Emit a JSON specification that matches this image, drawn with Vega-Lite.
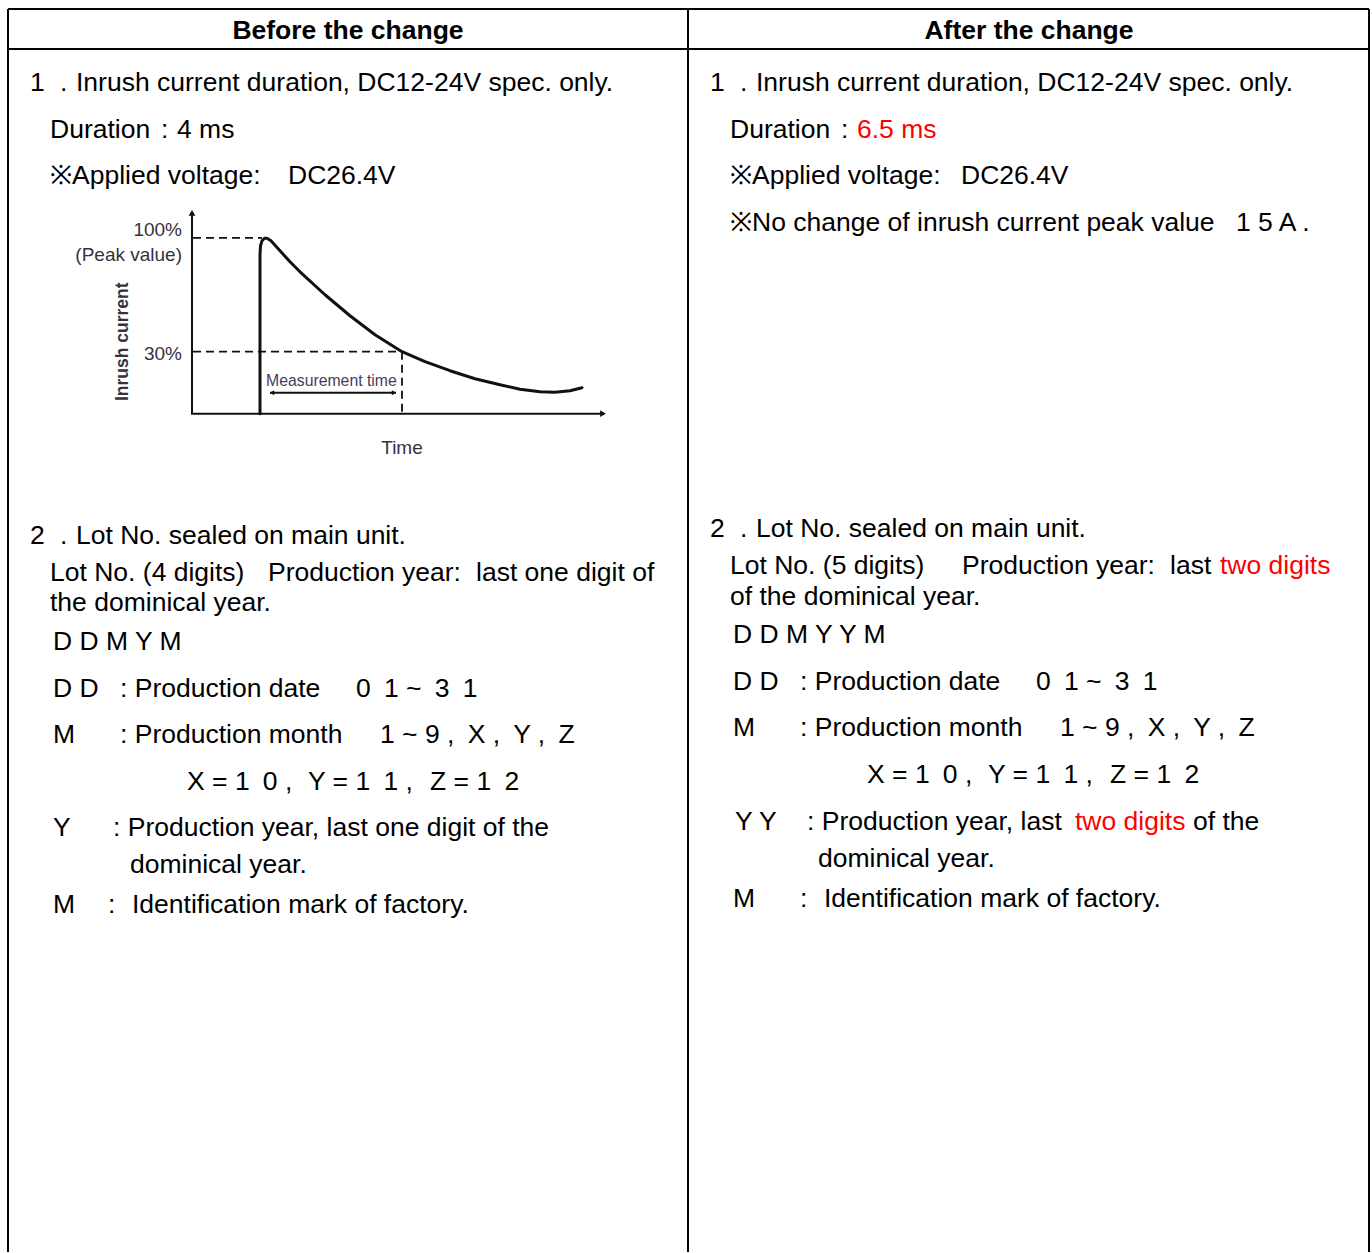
{
  "$schema": "https://vega.github.io/schema/vega-lite/v6.json",
  "width": 1372,
  "height": 1253,
  "autosize": {"type": "fit", "contains": "padding"},
  "padding": 0,
  "background": "white",
  "config": {"view": {"stroke": null}},
  "datasets": {
    "grid": [
      {"x": 8, "y": 9, "x2": 1369, "y2": 9},
      {"x": 8, "y": 49, "x2": 1369, "y2": 49},
      {"x": 8, "y": 9, "x2": 8, "y2": 1253},
      {"x": 688, "y": 9, "x2": 688, "y2": 1253},
      {"x": 1369, "y": 9, "x2": 1369, "y2": 1253}
    ],
    "heads": [
      {"x": 348, "y": 39, "text": "Before the change"},
      {"x": 1029, "y": 39, "text": "After the change"}
    ],
    "body": [
      {"x": 30, "y": 91, "text": "1", "emph": "plain"},
      {"x": 60, "y": 91, "text": ".", "emph": "plain"},
      {"x": 76, "y": 91, "text": "Inrush current duration, DC12-24V spec. only.", "emph": "plain"},
      {"x": 50, "y": 138, "text": "Duration", "emph": "plain"},
      {"x": 161, "y": 138, "text": ":", "emph": "plain"},
      {"x": 177, "y": 138, "text": "4 ms", "emph": "plain"},
      {"x": 50, "y": 184, "text": "※Applied voltage:", "emph": "plain"},
      {"x": 288, "y": 184, "text": "DC26.4V", "emph": "plain"},
      {"x": 30, "y": 544, "text": "2", "emph": "plain"},
      {"x": 60, "y": 544, "text": ".", "emph": "plain"},
      {"x": 76, "y": 544, "text": "Lot No. sealed on main unit.", "emph": "plain"},
      {"x": 50, "y": 581, "text": "Lot No. (4 digits)", "emph": "plain"},
      {"x": 268, "y": 581, "text": "Production year:", "emph": "plain"},
      {"x": 476, "y": 581, "text": "last one digit of", "emph": "plain"},
      {"x": 50, "y": 611, "text": "the dominical year.", "emph": "plain"},
      {"x": 53, "y": 651, "text": "D D M Y M", "emph": "plain"},
      {"x": 53, "y": 698, "text": "D D", "emph": "plain"},
      {"x": 120, "y": 698, "text": ": Production date", "emph": "plain"},
      {"x": 356, "y": 698, "text": "0\u20021 ~\u20023\u20021", "emph": "plain"},
      {"x": 53, "y": 744, "text": "M", "emph": "plain"},
      {"x": 120, "y": 744, "text": ": Production month", "emph": "plain"},
      {"x": 380, "y": 744, "text": "1 ~ 9 ,\u2002X ,\u2002Y ,\u2002Z", "emph": "plain"},
      {"x": 187, "y": 791, "text": "X = 1\u20020 ,", "emph": "plain"},
      {"x": 308, "y": 791, "text": "Y = 1\u20021 ,", "emph": "plain"},
      {"x": 430, "y": 791, "text": "Z = 1\u20022", "emph": "plain"},
      {"x": 53, "y": 837, "text": "Y", "emph": "plain"},
      {"x": 113, "y": 837, "text": ": Production year, last one digit of the", "emph": "plain"},
      {"x": 130, "y": 874, "text": "dominical year.", "emph": "plain"},
      {"x": 53, "y": 914, "text": "M", "emph": "plain"},
      {"x": 108, "y": 914, "text": ":", "emph": "plain"},
      {"x": 132, "y": 914, "text": "Identification mark of factory.", "emph": "plain"},
      {"x": 710, "y": 91, "text": "1", "emph": "plain"},
      {"x": 740, "y": 91, "text": ".", "emph": "plain"},
      {"x": 756, "y": 91, "text": "Inrush current duration, DC12-24V spec. only.", "emph": "plain"},
      {"x": 730, "y": 138, "text": "Duration", "emph": "plain"},
      {"x": 841, "y": 138, "text": ":", "emph": "plain"},
      {"x": 857, "y": 138, "text": "6.5 ms", "emph": "changed"},
      {"x": 730, "y": 184, "text": "※Applied voltage:", "emph": "plain"},
      {"x": 961, "y": 184, "text": "DC26.4V", "emph": "plain"},
      {"x": 730, "y": 231, "text": "※No change of inrush current peak value", "emph": "plain"},
      {"x": 1236, "y": 231, "text": "1 5 A .", "emph": "plain"},
      {"x": 710, "y": 537, "text": "2", "emph": "plain"},
      {"x": 740, "y": 537, "text": ".", "emph": "plain"},
      {"x": 756, "y": 537, "text": "Lot No. sealed on main unit.", "emph": "plain"},
      {"x": 730, "y": 574, "text": "Lot No. (5 digits)", "emph": "plain"},
      {"x": 962, "y": 574, "text": "Production year:", "emph": "plain"},
      {"x": 1170, "y": 574, "text": "last", "emph": "plain"},
      {"x": 1220, "y": 574, "text": "two digits", "emph": "changed"},
      {"x": 730, "y": 605, "text": "of the dominical year.", "emph": "plain"},
      {"x": 733, "y": 644, "text": "D D M Y Y M", "emph": "plain"},
      {"x": 733, "y": 691, "text": "D D", "emph": "plain"},
      {"x": 800, "y": 691, "text": ": Production date", "emph": "plain"},
      {"x": 1036, "y": 691, "text": "0\u20021 ~\u20023\u20021", "emph": "plain"},
      {"x": 733, "y": 737, "text": "M", "emph": "plain"},
      {"x": 800, "y": 737, "text": ": Production month", "emph": "plain"},
      {"x": 1060, "y": 737, "text": "1 ~ 9 ,\u2002X ,\u2002Y ,\u2002Z", "emph": "plain"},
      {"x": 867, "y": 784, "text": "X = 1\u20020 ,", "emph": "plain"},
      {"x": 988, "y": 784, "text": "Y = 1\u20021 ,", "emph": "plain"},
      {"x": 1110, "y": 784, "text": "Z = 1\u20022", "emph": "plain"},
      {"x": 735, "y": 831, "text": "Y Y", "emph": "plain"},
      {"x": 807, "y": 831, "text": ": Production year, last", "emph": "plain"},
      {"x": 1075, "y": 831, "text": "two digits", "emph": "changed"},
      {"x": 1193, "y": 831, "text": "of the", "emph": "plain"},
      {"x": 818, "y": 868, "text": "dominical year.", "emph": "plain"},
      {"x": 733, "y": 908, "text": "M", "emph": "plain"},
      {"x": 800, "y": 908, "text": ":", "emph": "plain"},
      {"x": 824, "y": 908, "text": "Identification mark of factory.", "emph": "plain"}
    ],
    "solid": [
      {"x": 192, "y": 212, "x2": 192, "y2": 414},
      {"x": 191, "y": 414, "x2": 604, "y2": 414},
      {"x": 270, "y": 393, "x2": 396, "y2": 393}
    ],
    "dashed": [
      {"x": 193, "y": 238, "x2": 262, "y2": 238},
      {"x": 193, "y": 352, "x2": 402, "y2": 352},
      {"x": 402, "y": 352, "x2": 402, "y2": 414}
    ],
    "curve": [
      {"i": 0, "x": 260, "y": 414},
      {"i": 1, "x": 260, "y": 300},
      {"i": 2, "x": 260, "y": 255},
      {"i": 3, "x": 260.5, "y": 246},
      {"i": 4, "x": 262, "y": 241},
      {"i": 5, "x": 264.5, "y": 238.5},
      {"i": 6, "x": 267, "y": 238.5},
      {"i": 7, "x": 271, "y": 241},
      {"i": 8, "x": 280, "y": 251},
      {"i": 9, "x": 290, "y": 262},
      {"i": 10, "x": 300, "y": 272},
      {"i": 11, "x": 325, "y": 295},
      {"i": 12, "x": 350, "y": 316},
      {"i": 13, "x": 375, "y": 335},
      {"i": 14, "x": 402, "y": 352},
      {"i": 15, "x": 425, "y": 362},
      {"i": 16, "x": 450, "y": 371},
      {"i": 17, "x": 475, "y": 379},
      {"i": 18, "x": 500, "y": 385},
      {"i": 19, "x": 520, "y": 389.5},
      {"i": 20, "x": 540, "y": 392},
      {"i": 21, "x": 555, "y": 392.5},
      {"i": 22, "x": 570, "y": 391},
      {"i": 23, "x": 582, "y": 388}
    ],
    "arrows": [
      {"x": 192, "y": 213, "dir": "up", "kind": "axis"},
      {"x": 603, "y": 414, "dir": "right", "kind": "axis"},
      {"x": 272, "y": 393, "dir": "left", "kind": "span"},
      {"x": 394, "y": 393, "dir": "right", "kind": "span"}
    ],
    "pct": [
      {"x": 182, "y": 236, "text": "100%"},
      {"x": 182, "y": 261, "text": "(Peak value)"},
      {"x": 182, "y": 360, "text": "30%"}
    ],
    "misc": [
      {"x": 402, "y": 454, "text": "Time"}
    ],
    "meas": [
      {"x": 266, "y": 386, "text": "Measurement time"}
    ],
    "ylab": [
      {"x": 123, "y": 342, "text": "Inrush current"}
    ]
  },
  "encoding": {
    "x": {"field": "x", "type": "quantitative", "scale": {"domain": [0, 1372], "nice": false, "zero": false}, "axis": null},
    "y": {"field": "y", "type": "quantitative", "scale": {"domain": [0, 1253], "nice": false, "zero": false, "reverse": true}, "axis": null}
  },
  "layer": [
    {
      "data": {"name": "grid"},
      "mark": {"type": "rule", "color": "#000000", "strokeWidth": 2},
      "encoding": {"x2": {"field": "x2"}, "y2": {"field": "y2"}}
    },
    {
      "data": {"name": "heads"},
      "mark": {"type": "text", "align": "center", "baseline": "alphabetic", "font": "Liberation Sans", "fontSize": 26.5, "fontWeight": "bold", "color": "#000000"},
      "encoding": {"text": {"field": "text"}}
    },
    {
      "data": {"name": "body"},
      "mark": {"type": "text", "align": "left", "baseline": "alphabetic", "font": "Liberation Sans", "fontSize": 26.5},
      "encoding": {
        "text": {"field": "text"},
        "color": {"field": "emph", "type": "nominal", "scale": {"domain": ["plain", "changed"], "range": ["#000000", "#ff0000"]}, "legend": null}
      }
    },
    {
      "data": {"name": "solid"},
      "mark": {"type": "rule", "color": "#111111", "strokeWidth": 2},
      "encoding": {"x2": {"field": "x2"}, "y2": {"field": "y2"}}
    },
    {
      "data": {"name": "dashed"},
      "mark": {"type": "rule", "color": "#111111", "strokeWidth": 1.8, "strokeDash": [8, 5]},
      "encoding": {"x2": {"field": "x2"}, "y2": {"field": "y2"}}
    },
    {
      "data": {"name": "curve"},
      "mark": {"type": "line", "color": "#111111", "strokeWidth": 3, "interpolate": "linear", "strokeCap": "round", "strokeJoin": "round"},
      "encoding": {"order": {"field": "i", "type": "quantitative"}}
    },
    {
      "data": {"name": "arrows"},
      "mark": {"type": "point", "filled": true, "color": "#111111", "opacity": 1},
      "encoding": {
        "shape": {"field": "dir", "type": "nominal", "scale": {"domain": ["up", "right", "left"], "range": ["triangle-up", "triangle-right", "triangle-left"]}, "legend": null},
        "size": {"field": "kind", "type": "nominal", "scale": {"domain": ["axis", "span"], "range": [45, 25]}, "legend": null}
      }
    },
    {
      "data": {"name": "pct"},
      "mark": {"type": "text", "align": "right", "baseline": "alphabetic", "font": "Liberation Sans", "fontSize": 19, "color": "#333340"},
      "encoding": {"text": {"field": "text"}}
    },
    {
      "data": {"name": "misc"},
      "mark": {"type": "text", "align": "center", "baseline": "alphabetic", "font": "Liberation Sans", "fontSize": 19, "color": "#333340"},
      "encoding": {"text": {"field": "text"}}
    },
    {
      "data": {"name": "meas"},
      "mark": {"type": "text", "align": "left", "baseline": "alphabetic", "font": "Liberation Sans", "fontSize": 15.8, "color": "#473d5c"},
      "encoding": {"text": {"field": "text"}}
    },
    {
      "data": {"name": "ylab"},
      "mark": {"type": "text", "align": "center", "baseline": "middle", "angle": 270, "font": "Liberation Sans", "fontSize": 17.5, "fontWeight": "bold", "color": "#333340"},
      "encoding": {"text": {"field": "text"}}
    }
  ]
}
